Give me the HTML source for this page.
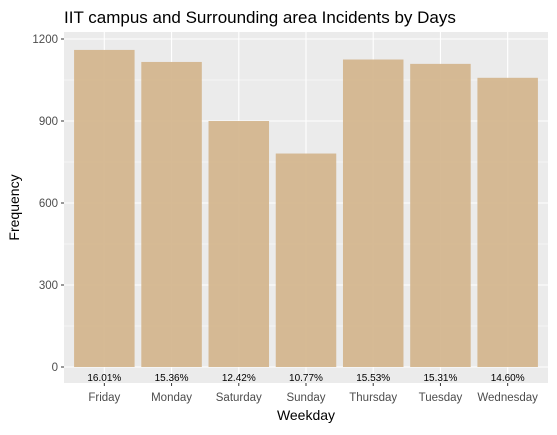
<!DOCTYPE html>
<html><head><meta charset="utf-8"><style>
body{margin:0;background:#fff;font-family:"Liberation Sans",Arial,sans-serif}
</style></head><body>
<svg width="557" height="430" xmlns="http://www.w3.org/2000/svg" font-family="Liberation Sans, Arial, sans-serif">
<g id="plot"></g>
</svg>
<script>
const categories=["Friday","Monday","Saturday","Sunday","Thursday","Tuesday","Wednesday"];
const counts=[1160,1116,900,781,1125,1109,1058];
const pctLabels=["16.01%","15.36%","12.42%","10.77%","15.53%","15.31%","14.60%"];
const yTicks=[0,300,600,900,1200];
const NS="http://www.w3.org/2000/svg";
const g=document.getElementById('plot');
const L=64,R=548,T=32,B=383;
const y0=367,yPer=(367-39)/1200;
const y=v=>y0-v*yPer;
const step=(R-L)/(categories.length-1+1.2);
const x=i=>L+step*(0.6+i);
function el(tag,attrs,parent){const e=document.createElementNS(NS,tag);for(const k in attrs)e.setAttribute(k,attrs[k]);(parent||g).appendChild(e);return e;}
const bg=el('rect',{x:L,y:T,width:R-L,height:B-T,fill:'#EBEBEB'});


for(let i=0;i<yTicks.length-1;i++){const v=(yTicks[i]+yTicks[i+1])/2;const l=el('line',{x1:L,x2:R,y1:y(v),y2:y(v),stroke:'#fff','stroke-width':0.5});

}
yTicks.forEach(v=>{const l=el('line',{x1:L,x2:R,y1:y(v),y2:y(v),stroke:'#fff','stroke-width':1.1});


const t=el('text',{x:L-6,y:y(v)+4,'text-anchor':'end','font-size':11.5,fill:'#4D4D4D'});t.textContent=v;


const tk=el('line',{x1:L-3,x2:L,y1:y(v),y2:y(v),stroke:'#333','stroke-width':1});

});
categories.forEach((c,i)=>{const l=el('line',{x1:x(i),x2:x(i),y1:T,y2:B,stroke:'#fff','stroke-width':1.1});

});
categories.forEach((c,i)=>{const w=step*0.9;
const r=el('rect',{x:x(i)-w/2,y:y(counts[i]),width:w,height:y(0)-y(counts[i]),fill:'#D2B48C','fill-opacity':0.92});


const p=el('text',{x:x(i),y:381,'text-anchor':'middle','font-size':10,fill:'#000'});p.textContent=pctLabels[i];


const tk=el('line',{x1:x(i),x2:x(i),y1:B,y2:B+3,stroke:'#333','stroke-width':1});


const t=el('text',{x:x(i),y:401,'text-anchor':'middle','font-size':11.5,fill:'#4D4D4D'});t.textContent=c;

});
const xt=el('text',{x:(L+R)/2,y:420,'text-anchor':'middle','font-size':14,fill:'#000'});xt.textContent='Weekday';


const yt=el('text',{x:0,y:0,'text-anchor':'middle','font-size':14,fill:'#000',transform:`translate(19,${(T+B)/2}) rotate(-90)`});yt.textContent='Frequency';


const ti=el('text',{x:64,y:23,'font-size':17,fill:'#000'});ti.textContent='IIT campus and Surrounding area Incidents by Days';


</script>
</body></html>
